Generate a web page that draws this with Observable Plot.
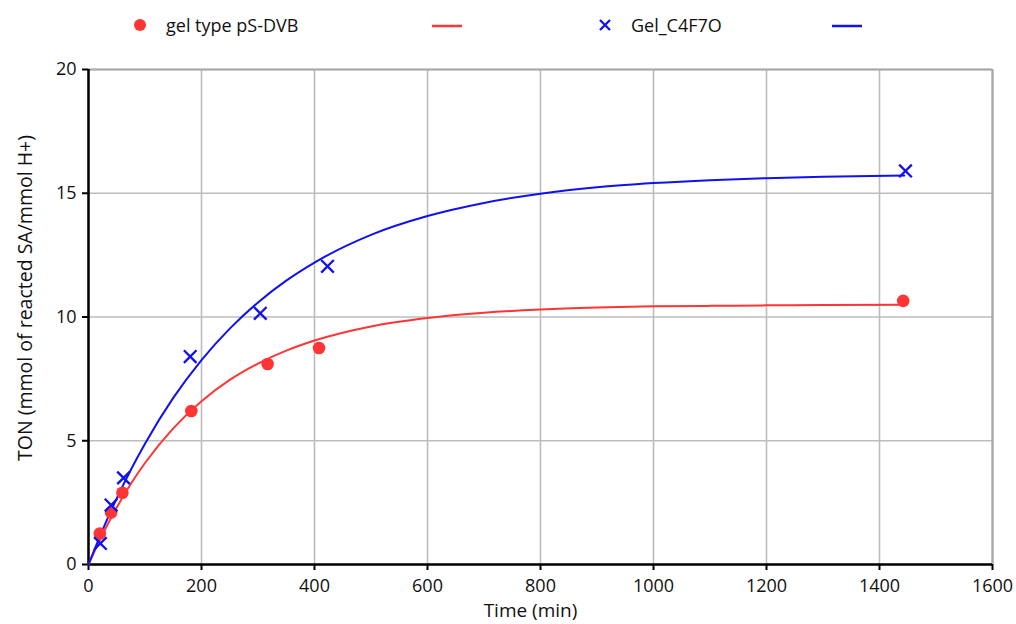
<!DOCTYPE html>
<html>
<head>
<meta charset="utf-8">
<script src="https://cdn.jsdelivr.net/npm/d3@7"></script>
<script src="https://cdn.jsdelivr.net/npm/@observablehq/plot@0.6"></script>
<style>
  html, body { margin: 0; padding: 0; background: #fff; }
  body { width: 1016px; height: 624px; overflow: hidden; font-family: "Open Sans", sans-serif; }
  #legend { position: relative; height: 50px; width: 1016px; font-size: 18px; color: #111; }
  #legend .it { position: absolute; top: 12px; line-height: 26px; white-space: nowrap; }
  #chart svg { display: block; }
</style>
</head>
<body>
<div id="legend"></div>
<div id="chart"></div>
<script>
// Measured points
const redTime = [20, 40, 60, 182, 317, 408, 1442];
const redTON  = [1.25, 2.1, 2.9, 6.2, 8.1, 8.75, 10.65];
const blueTime = [21, 40, 62, 180, 304, 423, 1446];
const blueTON  = [0.85, 2.4, 3.5, 8.4, 10.15, 12.05, 15.9];

// Fitted curves
const curveTime = [0, 25, 50, 75, 100, 150, 200, 250, 300, 350, 400, 500, 600, 700, 800, 900, 1000, 1100, 1200, 1300, 1444];
const redCurve  = [0, 1.22, 2.30, 3.26, 4.10, 5.50, 6.60, 7.46, 8.12, 8.64, 9.05, 9.62, 9.96, 10.17, 10.30, 10.38, 10.43, 10.45, 10.47, 10.48, 10.49];
const blueCurve = [0, 1.40, 2.67, 3.83, 4.88, 6.73, 8.26, 9.53, 10.59, 11.47, 12.20, 13.32, 14.08, 14.61, 14.98, 15.24, 15.41, 15.53, 15.61, 15.67, 15.72];

const xTicks = [0, 200, 400, 600, 800, 1000, 1200, 1400, 1600];
const yTicks = [0, 5, 10, 15, 20];

const seriesNames = ["gel type pS-DVB", "Gel_C4F7O"];
const RED = "#ff3535";
const BLUE = "#1010f0";

const redPts = redTime.map((t, i) => ({t, v: redTON[i]}));
const bluePts = blueTime.map((t, i) => ({t, v: blueTON[i]}));
const redLine = curveTime.map((t, i) => ({t, v: redCurve[i]}));
const blueLine = curveTime.map((t, i) => ({t, v: blueCurve[i]}));

const fmt = d => String(d);

const chart = Plot.plot({
  width: 1016,
  height: 574,
  marginTop: 19,
  marginBottom: 60,
  marginLeft: 88,
  marginRight: 24,
  style: {fontFamily: "Open Sans, sans-serif", fontSize: "18px", color: "#111", background: "#fff"},
  x: {domain: [0, 1600], ticks: xTicks},
  y: {domain: [0, 20], ticks: yTicks},
  marks: [
    Plot.gridX(xTicks, {stroke: "#bdbdbd", strokeOpacity: 1, strokeWidth: 1.6}),
    Plot.gridY(yTicks, {stroke: "#bdbdbd", strokeOpacity: 1, strokeWidth: 1.6}),
    Plot.gridX([1600], {stroke: "#a8a8a8", strokeOpacity: 1, strokeWidth: 2.2}),
    Plot.gridY([20], {stroke: "#a8a8a8", strokeOpacity: 1, strokeWidth: 2.2}),
    Plot.axisX(xTicks, {tickSize: 6, tickPadding: 9, stroke: "#000", strokeWidth: 2, fontSize: 18, tickFormat: fmt, label: null}),
    Plot.axisY(yTicks, {tickSize: 6, tickPadding: 6, stroke: "#000", strokeWidth: 2, fontSize: 18, tickFormat: fmt, label: null}),
    Plot.ruleY([0], {stroke: "#000", strokeWidth: 2.5}),
    Plot.ruleX([0], {stroke: "#000", strokeWidth: 2.5}),
    Plot.line(redLine, {x: "t", y: "v", stroke: RED, strokeWidth: 2, curve: "monotone-x"}),
    Plot.line(blueLine, {x: "t", y: "v", stroke: BLUE, strokeWidth: 2, curve: "monotone-x"}),
    Plot.dot(redPts, {x: "t", y: "v", r: 6.3, fill: RED, stroke: "none"}),
    Plot.dot(bluePts, {x: "t", y: "v", r: 5.8, symbol: "times", stroke: BLUE, strokeWidth: 2.3}),
    Plot.text(["Time (min)"], {frameAnchor: "bottom", dx: -10, dy: 52, fontSize: 19, fill: "#111"}),
    Plot.text(["TON (mmol of reacted SA/mmol H+)"], {frameAnchor: "left", dx: -63, dy: -19, rotate: -90, textAnchor: "middle", fontSize: 19.5, fill: "#111"})
  ]
});
document.getElementById("chart").appendChild(chart);

// Legend
const legend = document.getElementById("legend");
const items = [
  {kind: "dot", color: RED, x: 134},
  {kind: "text", text: seriesNames[0], x: 166},
  {kind: "line", color: RED, x: 432},
  {kind: "times", color: BLUE, x: 598},
  {kind: "text", text: seriesNames[1], x: 631},
  {kind: "line", color: BLUE, x: 832}
];
for (const it of items) {
  const d = document.createElement("div");
  d.className = "it";
  d.style.left = it.x + "px";
  if (it.kind === "text") {
    d.textContent = it.text;
  } else {
    const svg = d3.create("svg").attr("width", 44).attr("height", 26).style("display", "block");
    if (it.kind === "dot") svg.append("circle").attr("cx", 6).attr("cy", 13).attr("r", 6).attr("fill", it.color);
    if (it.kind === "line") svg.append("line").attr("x1", 0).attr("x2", 30).attr("y1", 14).attr("y2", 14).attr("stroke", it.color).attr("stroke-width", 2.5);
    if (it.kind === "times") svg.append("path").attr("d", "M2,8L12,18M12,8L2,18").attr("stroke", it.color).attr("stroke-width", 2.3);
    d.appendChild(svg.node());
  }
  legend.appendChild(d);
}
</script>
</body>
</html>
